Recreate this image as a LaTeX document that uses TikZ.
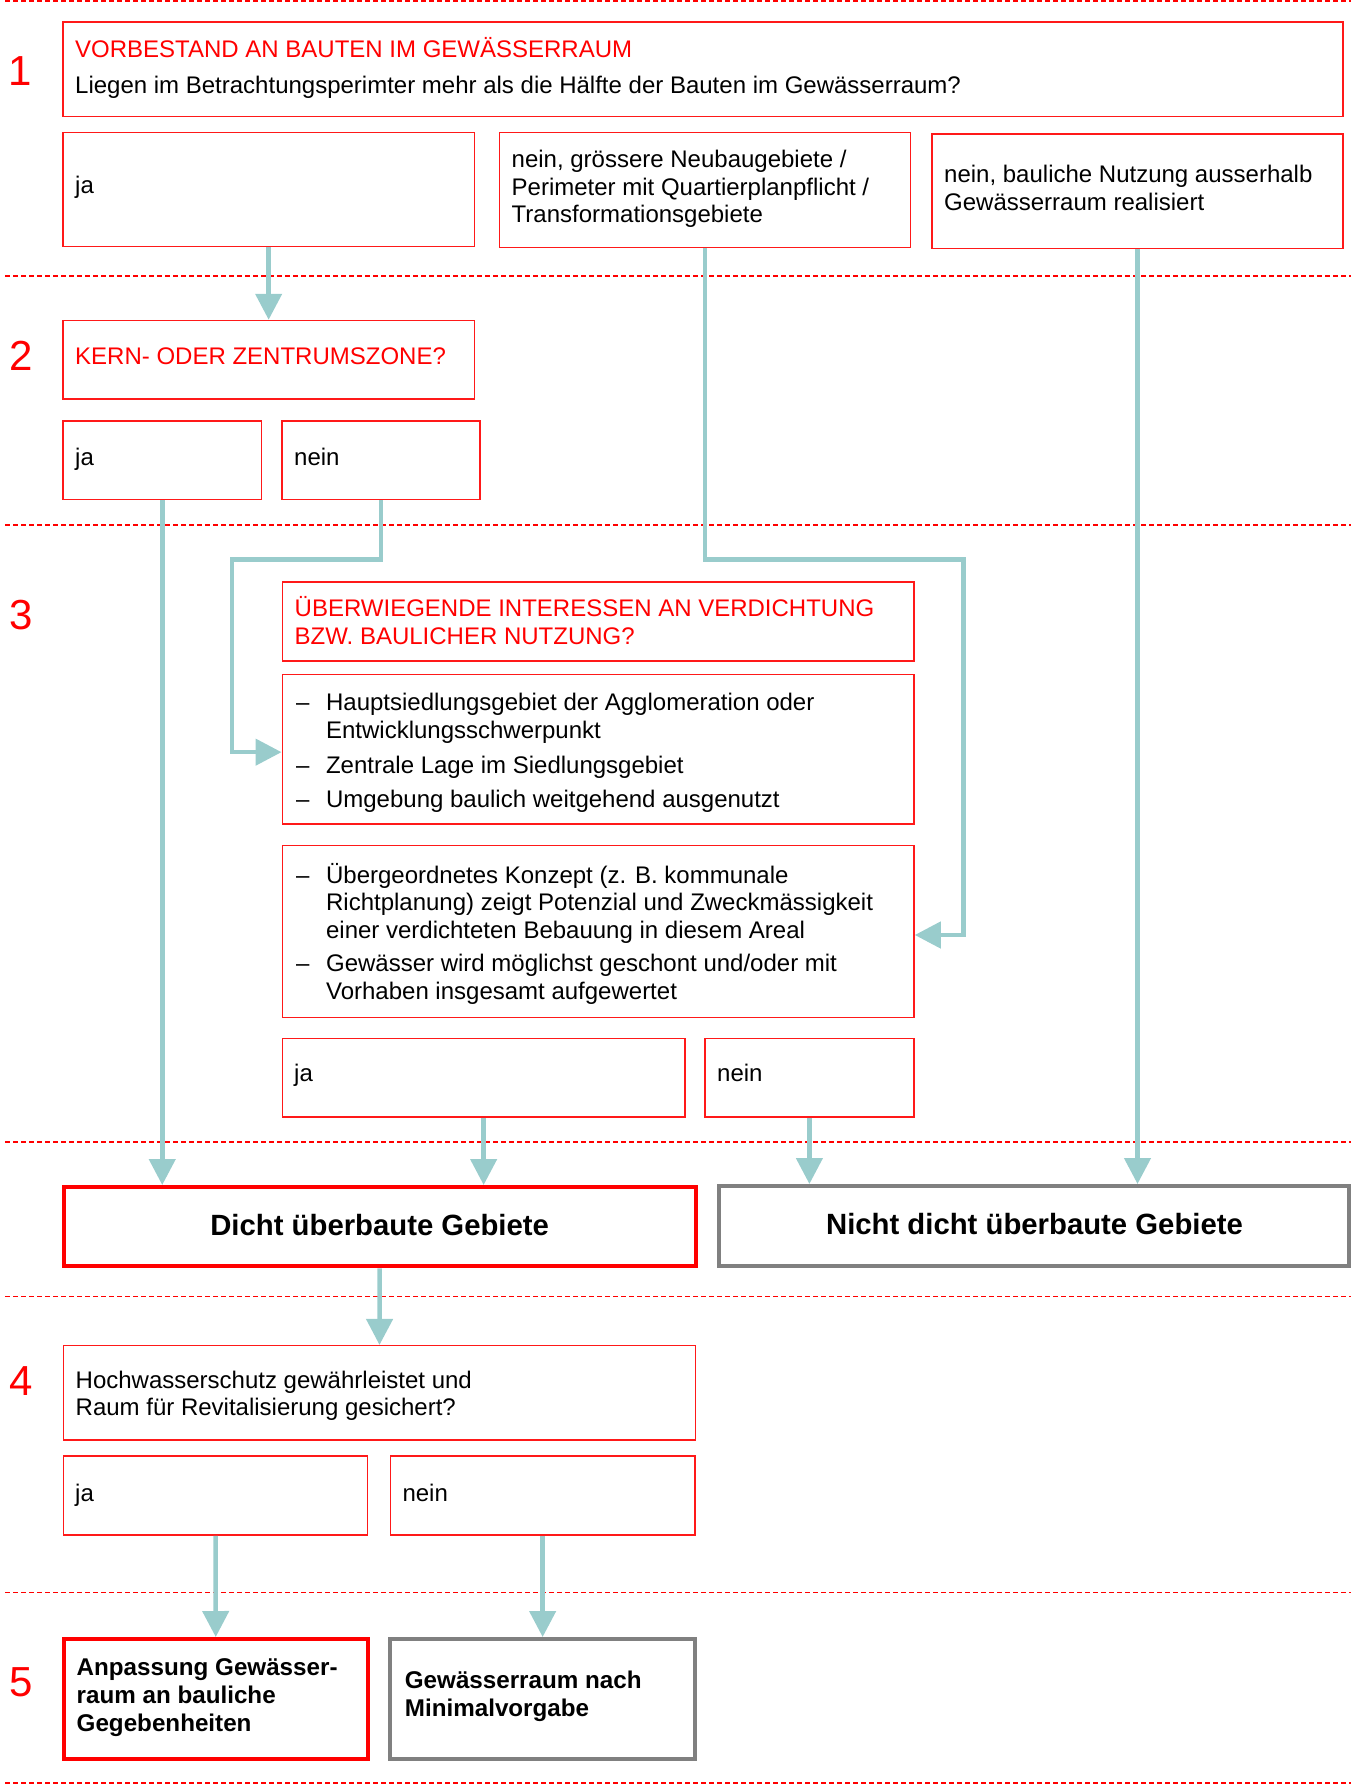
\documentclass[tikz,border=0pt]{standalone}
\usepackage{fontspec}
\setmainfont{Liberation Sans}
\usetikzlibrary{arrows.meta}
\definecolor{tealarrow}{RGB}{153,204,204}
\definecolor{boxred}{RGB}{255,25,25}
\definecolor{boxgray}{RGB}{128,128,128}
\newcommand\fstrut{\rule{0pt}{24pt}}
\newcommand\dashitem{\makebox[29.9pt][l]{–}}
\newcommand\dashindent{\hspace*{29.9pt}}
\begin{document}
\begin{tikzpicture}[x=1pt,y=-1pt,
  tbox/.style={draw=boxred, line width=1.5pt, rectangle, inner sep=0pt, fill=white},
  rbox/.style={draw=red, line width=4pt, rectangle, inner sep=0pt, fill=white},
  gbox/.style={draw=boxgray, line width=4pt, rectangle, inner sep=0pt, fill=white},
  txt/.style={anchor=north west, inner sep=0pt, align=left, font=\fontsize{24}{27.3}\selectfont},
  rtxt/.style={txt, text=red},
  btxt/.style={anchor=north west, inner sep=0pt, align=left, font=\fontsize{24.2}{28}\selectfont\bfseries},
  bigtxt/.style={anchor=base, inner sep=0pt, font=\fontsize{29.3}{31}\selectfont\bfseries},
  num/.style={anchor=base, inner sep=0pt, text=red, font=\fontsize{42}{42}\selectfont},
  sepline/.style={draw=red, line width=1.3pt, dash pattern=on 5pt off 3pt},
  arr/.style={draw=tealarrow, line width=4.5pt, -{Triangle[length=26pt,width=26pt]}},
]
\useasboundingbox (0,0) rectangle (1351,1786);

% separators
\draw[sepline] (5,1) -- (1351,1);
\draw[sepline] (5,276) -- (1351,276);
\draw[sepline] (5,525) -- (1351,525);
\draw[sepline] (5,1142) -- (1351,1142);
\draw[sepline] (5,1296.7) -- (1351,1296.7);
\draw[sepline] (5,1592.7) -- (1351,1592.7);
\draw[sepline] (5,1783) -- (1351,1783);

% step numbers
\node[num] (n1) at (20,85) {1};
\node[num] (n2) at (21,370) {2};
\node[num] (n3) at (21,629) {3};
\node[num] (n4) at (21,1395.7) {4};
\node[num] (n5) at (21,1696.7) {5};

% section 1
\node[tbox, minimum width=1280pt, minimum height=94.5pt] (q1) at (703,69.25) {};
\node[rtxt] (q1t) at (75,33.3) {\fstrut VORBESTAND AN BAUTEN IM GEWÄSSERRAUM};
\node[txt] (q1q) at (75,69.3) {\fstrut Liegen im Betrachtungsperimter mehr als die Hälfte der Bauten im Gewässerraum?};

\node[tbox, minimum width=411.3pt, minimum height=114.2pt] (r1ja) at (268.65,189.4) {};
\node[txt] (r1jat) at (75,169) {\fstrut ja};
\node[tbox, minimum width=411pt, minimum height=114.8pt] (r1n2) at (705,189.9) {};
\node[txt] (r1n2t) at (511.5,143.7) {\fstrut nein, grössere Neubaugebiete /\\Perimeter mit Quartierplanpflicht /\\Transformationsgebiete};
\node[tbox, minimum width=411pt, minimum height=114.7pt] (r1n3) at (1137.5,191.35) {};
\node[txt] (r1n3t) at (944,158.7) {\fstrut nein, bauliche Nutzung ausserhalb\\Gewässerraum realisiert};

% section 2
\node[tbox, minimum width=411.3pt, minimum height=78.7pt] (q2) at (268.65,359.85) {};
\node[rtxt] (q2t) at (75,340) {\fstrut KERN- ODER ZENTRUMSZONE?};
\node[tbox, minimum width=198.5pt, minimum height=78.5pt] (r2ja) at (162.25,460.25) {};
\node[txt] (r2jat) at (75,441) {\fstrut ja};
\node[tbox, minimum width=197.8pt, minimum height=78.5pt] (r2nein) at (380.9,460.25) {};
\node[txt] (r2neint) at (294,441) {\fstrut nein};

% section 3
\node[tbox, minimum width=631.7pt, minimum height=79pt] (q3) at (598.15,621.5) {};
\node[rtxt] (q3t) at (294.5,592.7) {\fstrut ÜBERWIEGENDE INTERESSEN AN VERDICHTUNG\\BZW. BAULICHER NUTZUNG?};
\node[tbox, minimum width=631.7pt, minimum height=149.7pt] (list1) at (598.15,749.15) {};
\node[txt] (list1t) at (296,686.7) {\fstrut\dashitem Hauptsiedlungsgebiet der Agglomeration oder\\\dashindent Entwicklungsschwerpunkt\\[7.5pt]\dashitem Zentrale Lage im Siedlungsgebiet\\[7.5pt]\dashitem Umgebung baulich weitgehend ausgenutzt};
\node[tbox, minimum width=631.7pt, minimum height=171.6pt] (list2) at (598.15,931.5) {};
\node[txt] (list2t) at (296,859.3) {\fstrut\dashitem Übergeordnetes Konzept (z. B. kommunale\\\dashindent Richtplanung) zeigt Potenzial und Zweckmässigkeit\\\dashindent einer verdichteten Bebauung in diesem Areal\\[6.5pt]\dashitem Gewässer wird möglichst geschont und/oder mit\\\dashindent Vorhaben insgesamt aufgewertet};
\node[tbox, minimum width=402.7pt, minimum height=78.5pt] (r3ja) at (483.65,1077.75) {};
\node[txt] (r3jat) at (294,1057.7) {\fstrut ja};
\node[tbox, minimum width=209.2pt, minimum height=78.5pt] (r3nein) at (809.4,1077.75) {};
\node[txt] (r3neint) at (717,1057.7) {\fstrut nein};

% results
\node[rbox, minimum width=631.7pt, minimum height=79.3pt] (dicht) at (379.65,1226.65) {};
\node[bigtxt] (dichtt) at (379.65,1235.5) {Dicht überbaute Gebiete};
\node[gbox, minimum width=630.5pt, minimum height=79.7pt] (nicht) at (1033.75,1225.85) {};
\node[bigtxt] (nichtt) at (1034.5,1234) {Nicht dicht überbaute Gebiete};

% section 4
\node[tbox, minimum width=632pt, minimum height=94.3pt] (q4) at (379.5,1392.85) {};
\node[txt] (q4t) at (75.5,1364.3) {\fstrut Hochwasserschutz gewährleistet und\\Raum für Revitalisierung gesichert?};
\node[tbox, minimum width=304pt, minimum height=79pt] (r4ja) at (215.5,1495.5) {};
\node[txt] (r4jat) at (75,1477) {\fstrut ja};
\node[tbox, minimum width=304.7pt, minimum height=79pt] (r4nein) at (542.65,1495.5) {};
\node[txt] (r4neint) at (402.3,1477) {\fstrut nein};

% section 5
\node[rbox, minimum width=304.5pt, minimum height=120pt] (res5ja) at (215.75,1699) {};
\node[btxt] (res5jat) at (76.5,1651) {\fstrut Anpassung Gewässer-\\raum an bauliche\\Gegebenheiten};
\node[gbox, minimum width=304.7pt, minimum height=120pt] (res5nein) at (542.65,1699) {};
\node[btxt] (res5neint) at (404.7,1664.3) {\fstrut Gewässerraum nach\\Minimalvorgabe};

% connectors
\coordinate (k1) at (232,559.3);
\coordinate (k2) at (963.5,559.3);
\draw[arr] (r1ja.south) -- (q2.north);
\draw[arr] (r2ja.south) -- (r2ja.south |- dicht.north);
\draw[arr] (r2nein.south) |- (k1) |- ([yshift=-3pt]list1.west);
\draw[arr] (r1n2.south) |- (k2) |- ([yshift=-3.5pt]list2.east);
\draw[arr] (r1n3.south) -- (r1n3.south |- nicht.north);
\draw[arr] (r3ja.south) -- (r3ja.south |- dicht.north);
\draw[arr] (r3nein.south) -- (r3nein.south |- nicht.north);
\draw[arr] (dicht.south) -- (q4.north);
\draw[arr] (r4ja.south) -- (res5ja.north);
\draw[arr] (r4nein.south) -- (res5nein.north);
\end{tikzpicture}
\end{document}
